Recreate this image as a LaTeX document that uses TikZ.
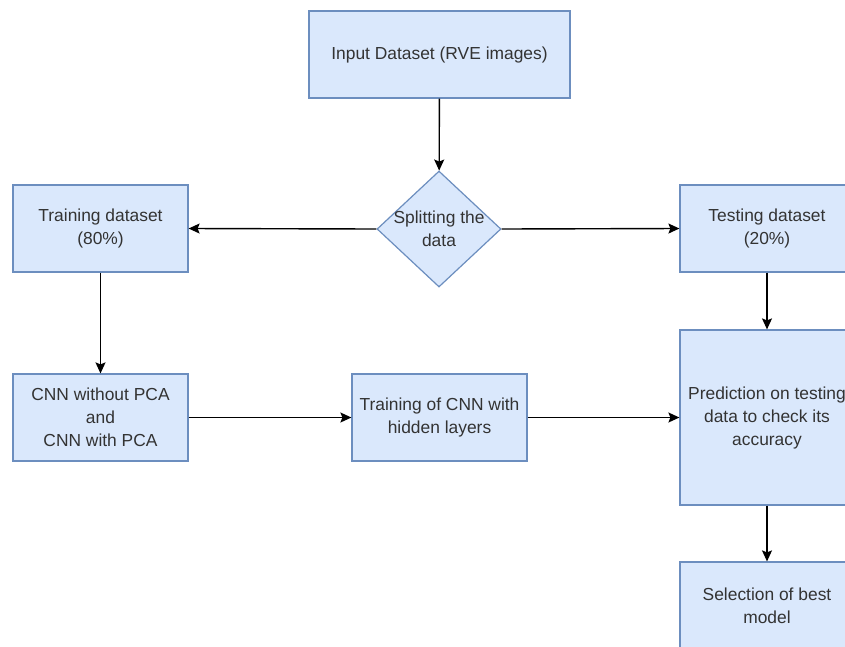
\documentclass[tikz,border=0pt]{standalone}
\usepackage{fontspec}
\setmainfont{Liberation Sans}
\usetikzlibrary{shapes.geometric, arrows.meta}
\definecolor{boxfill}{HTML}{DAE8FC}
\definecolor{boxline}{HTML}{6C8EBF}
\definecolor{boxtext}{HTML}{333333}

\begin{document}
\begin{tikzpicture}[x=1pt, y=-1pt,
    stepbox/.style={draw=boxline, fill=boxfill, line width=1.2pt, text=boxtext,
        align=center, inner sep=0pt, minimum width=175pt, minimum height=87pt,
        font=\fontsize{17.4}{23}\selectfont},
    splitbox/.style={stepbox, shape=diamond, aspect=1.07,
        minimum width=124pt, minimum height=116pt},
    flow/.style={-{Stealth[length=11pt, width=10pt, inset=2pt]}, line width=1.4pt, black}]
    \fill[white] (0,0) rectangle (845,646);
    \useasboundingbox (0,0) rectangle (845,646);
    \clip (0,0) rectangle (845,646);

    \coordinate (Pin) at (439.5, 54.5);
    \coordinate (Psplit) at (439, 229);
    \coordinate (Ptrain) at (100.5, 228.5);
    \coordinate (Ptest) at (767, 228.5);
    \coordinate (Pcnn) at (100.5, 417.5);
    \coordinate (Pfit) at (439.5, 417.5);
    \coordinate (Ppred) at (767, 417.5);
    \coordinate (Pbest) at (767, 605.5);

    \node[stepbox, minimum width=261pt] (input) at (Pin) {Input Dataset (RVE images)};
    \node[splitbox] (split) at (Psplit)
        {\makebox[0pt]{\smash{\raisebox{-6pt}{\begin{tabular}{@{}c@{}}Splitting the\\data\end{tabular}}}}};
    \node[stepbox] (train) at (Ptrain) {Training dataset\\(80\%)};
    \node[stepbox, minimum width=174pt] (test) at (Ptest) {Testing dataset\\(20\%)};
    \node[stepbox] (cnn) at (Pcnn) {CNN without PCA\\and\\CNN with PCA};
    \node[stepbox] (fit) at (Pfit) {Training of CNN with\\hidden layers};
    \node[stepbox, minimum width=174pt, minimum height=175pt] (pred) at (Ppred)
        {Prediction on testing\\data to check its\\accuracy};
    \node[stepbox, minimum width=174pt] (best) at (Pbest) {Selection of best\\model};

    \draw[flow] (input) -- (split);
    \draw[flow] (split.west) -- (train.east);
    \draw[flow] (split.east) -- (test.west);
    \draw[flow] (train) -- (cnn);
    \draw[flow] (test) -- (pred);
    \draw[flow] (cnn) -- (fit);
    \draw[flow] (fit) -- (pred);
    \draw[flow] (pred) -- (best);
\end{tikzpicture}
\end{document}
